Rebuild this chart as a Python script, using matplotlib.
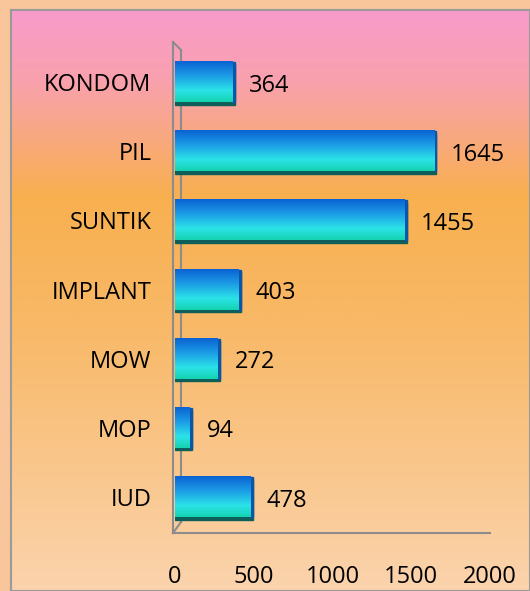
import numpy as np
import matplotlib.pyplot as plt
from matplotlib.colors import LinearSegmentedColormap
from matplotlib.lines import Line2D
from matplotlib.patches import Rectangle

# data (bottom to top)
categories = ["IUD", "MOP", "MOW", "IMPLANT", "SUNTIK", "PIL", "KONDOM"]
values = [478, 94, 272, 403, 1455, 1645, 364]
xticks = [0, 500, 1000, 1500, 2000]

W, H = 530, 591
fig = plt.figure(figsize=(W / 100, H / 100), dpi=100)
fig.patch.set_facecolor("#F8C69A")

# background panel with gradient
bg = fig.add_axes([11 / W, 0, 1 - 11 / W, 1 - 10 / H], zorder=0)
bg_cmap = LinearSegmentedColormap.from_list(
    "bg", [(0.0, "#FA9BCB"), (0.12, "#F9A1AE"), (0.32, "#F8B04F"),
           (0.55, "#F8B968"), (1.0, "#FBD3AD")])
grad = np.linspace(0, 1, 256).reshape(-1, 1)
bg.imshow(grad, cmap=bg_cmap, aspect="auto", extent=(0, 1, 0, 1), origin="upper")
bg.set_xlim(0, 1)
bg.set_ylim(0, 1)
bg.set_xticks([])
bg.set_yticks([])
for s in bg.spines.values():
    s.set_color("#9A9A9A")
    s.set_linewidth(1.5)

# main chart
x0, x1, ytop, ybot = 175, 490, 42, 533
ax = fig.add_axes([x0 / W, 1 - ybot / H, (x1 - x0) / W, (ybot - ytop) / H], zorder=2)
ax.patch.set_alpha(0)

bar_cmap = LinearSegmentedColormap.from_list(
    "bar", [(0.0, "#0A62D2"), (0.35, "#1C9BE6"), (0.72, "#2CE3E8"), (1.0, "#15D3B0")])
bh = 0.58
ypos = np.arange(len(categories))
for y, v in zip(ypos, values):
    # 3d side / shadow
    ax.add_patch(Rectangle((0, y - bh / 2 - 0.035), v + 15, bh, color="#0E5E5A", zorder=2))
    ax.add_patch(Rectangle((v, y - bh / 2), 15, bh, color="#0B55A8", zorder=2))
    ax.imshow(grad, cmap=bar_cmap, aspect="auto", extent=(0, v, y - bh / 2, y + bh / 2),
              origin="upper", zorder=3)
    ax.annotate(str(v), (v, y), xytext=(12, -2.5), textcoords="offset points",
                va="center", ha="left", fontsize=17, family="Open Sans", color="black")

ax.set_xlim(0, 2000)
ax.set_ylim(-0.52, 6.58)
ax.set_xticks(xticks)
ax.set_xticklabels([str(t) for t in xticks], fontsize=17, family="Open Sans")
ax.set_yticks(ypos)
ax.set_yticklabels(categories, fontsize=17, family="Open Sans")
ax.tick_params(axis="x", length=0, pad=23)
ax.tick_params(axis="y", length=0, pad=17)
for s in ax.spines.values():
    s.set_visible(False)

# 3d wall / floor lines (pixel coords)
def px_line(xs, ys):
    fig.add_artist(Line2D([x / W for x in xs], [1 - y / H for y in ys],
                          color="#8C8C8C", lw=1.5, zorder=1))

px_line([173, 173], [42, 533])
px_line([181, 181], [50, 522])
px_line([173, 181], [42, 50])
px_line([173, 181], [533, 522])
px_line([173, 490], [533, 533])

fig.savefig("out.png", dpi=100)
